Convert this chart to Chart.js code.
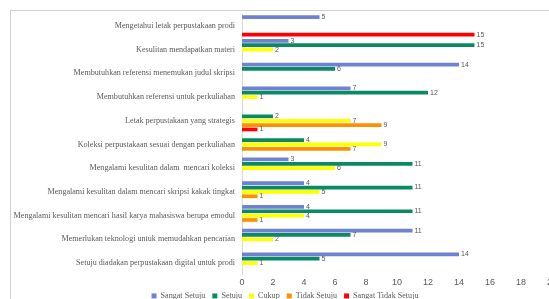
<!DOCTYPE html>
<html>
<head>
<meta charset="utf-8">
<script src="https://cdn.jsdelivr.net/npm/chart.js@4.4.1/dist/chart.umd.min.js"></script>
<style>
  html, body { margin:0; padding:0; background:#fff; overflow:hidden; width:549px; height:299px; }
  #wrap { position:absolute; left:0; top:0; width:570px; height:310px; }
  #frame { position:absolute; left:10px; top:10px; width:600px; height:320px; border:1px solid #d0d0d0; box-sizing:border-box; pointer-events:none; }
</style>
</head>
<body>
<div id="wrap"><canvas id="c" width="570" height="310"></canvas></div>
<div id="frame"></div>
<script>
const categories = [
  "Mengetahui letak perpustakaan prodi",
  "Kesulitan mendapatkan materi",
  "Membutuhkan referensi menemukan judul skripsi",
  "Membutuhkan referensi untuk perkuliahan",
  "Letak perpustakaan yang strategis",
  "Koleksi perpustakaan sesuai dengan perkuliahan",
  "Mengalami kesulitan dalam  mencari koleksi",
  "Mengalami kesulitan dalam mencari skripsi kakak tingkat",
  "Mengalami kesulitan mencari hasil karya mahasiswa berupa emodul",
  "Memerlukan teknologi untuk memudahkan pencarian",
  "Setuju diadakan perpustakaan digital untuk prodi"
];
const seriesNames = ["Sangat Setuju", "Setuju", "Cukup", "Tidak Setuju", "Sangat Tidak Setuju"];
const sangatSetuju      = [5, 3, 14, 7, 0, 0, 3, 4, 4, 11, 14];
const setuju            = [0, 15, 6, 12, 2, 4, 11, 11, 11, 7, 5];
const cukup             = [0, 2, 0, 1, 7, 9, 6, 5, 4, 2, 1];
const tidakSetuju       = [0, 0, 0, 0, 9, 7, 0, 1, 1, 0, 0];
const sangatTidakSetuju = [15, 0, 0, 0, 1, 0, 0, 0, 0, 0, 0];
const xTicks = [0, 2, 4, 6, 8, 10, 12, 14, 16, 18, 20];

const colors = ["#6e82d1", "#0a8a62", "#ffff00", "#ff8f00", "#ff0000"];
const allSeries = [sangatSetuju, setuju, cukup, tidakSetuju, sangatTidakSetuju];

const valueLabels = {
  id: 'valueLabels',
  afterDatasetsDraw(chart) {
    const ctx = chart.ctx;
    ctx.save();
    ctx.font = '7px "Liberation Sans", Arial, sans-serif';
    ctx.fillStyle = '#595959';
    ctx.textAlign = 'left';
    ctx.textBaseline = 'middle';
    chart.data.datasets.forEach((ds, i) => {
      const meta = chart.getDatasetMeta(i);
      meta.data.forEach((bar, j) => {
        const v = ds.data[j];
        if (!v) return;
        ctx.fillText(String(v), bar.x + 2, bar.y);
      });
    });
    ctx.restore();
  }
};

const legendShift = {
  id: 'legendShift',
  afterLayout(chart) {
    if (chart.legend) { chart.legend.left += 9; chart.legend.right += 9; }
  }
};

new Chart(document.getElementById('c'), {
  type: 'bar',
  data: {
    labels: categories,
    datasets: seriesNames.map((n, i) => ({
      label: n,
      data: allSeries[i],
      backgroundColor: colors[i],
      borderWidth: 0,
      categoryPercentage: 0.92,
      barPercentage: 0.85
    }))
  },
  options: {
    indexAxis: 'y',
    responsive: false,
    animation: false,
    devicePixelRatio: 1,
    layout: { padding: { left: 0, right: 18, top: 14, bottom: 0 } },
    scales: {
      x: {
        min: 0, max: 20,
        afterBuildTicks(scale) { scale.ticks = xTicks.map(v => ({ value: v })); },
        afterFit(scale) { scale.height = 10; },
        grid: { display: false, drawTicks: false },
        border: { display: false },
        ticks: {
          color: '#595959',
          padding: 2,
          font: { family: '"Liberation Sans", Arial, sans-serif', size: 9 }
        }
      },
      y: {
        afterFit(scale) { scale.width = 242; },
        grid: { display: false, drawTicks: false },
        border: { display: true, color: '#d9d9d9' },
        ticks: {
          color: '#595959',
          padding: 7,
          autoSkip: false,
          font: { family: '"Liberation Serif", "Times New Roman", serif', size: 8.1 }
        }
      }
    },
    plugins: {
      legend: {
        position: 'bottom',
        labels: {
          color: '#595959',
          boxWidth: 5,
          boxHeight: 5,
          padding: 7,
          font: { family: '"Liberation Serif", "Times New Roman", serif', size: 8.1 }
        }
      },
      tooltip: { enabled: false }
    }
  },
  plugins: [valueLabels, legendShift]
});
</script>
</body>
</html>
